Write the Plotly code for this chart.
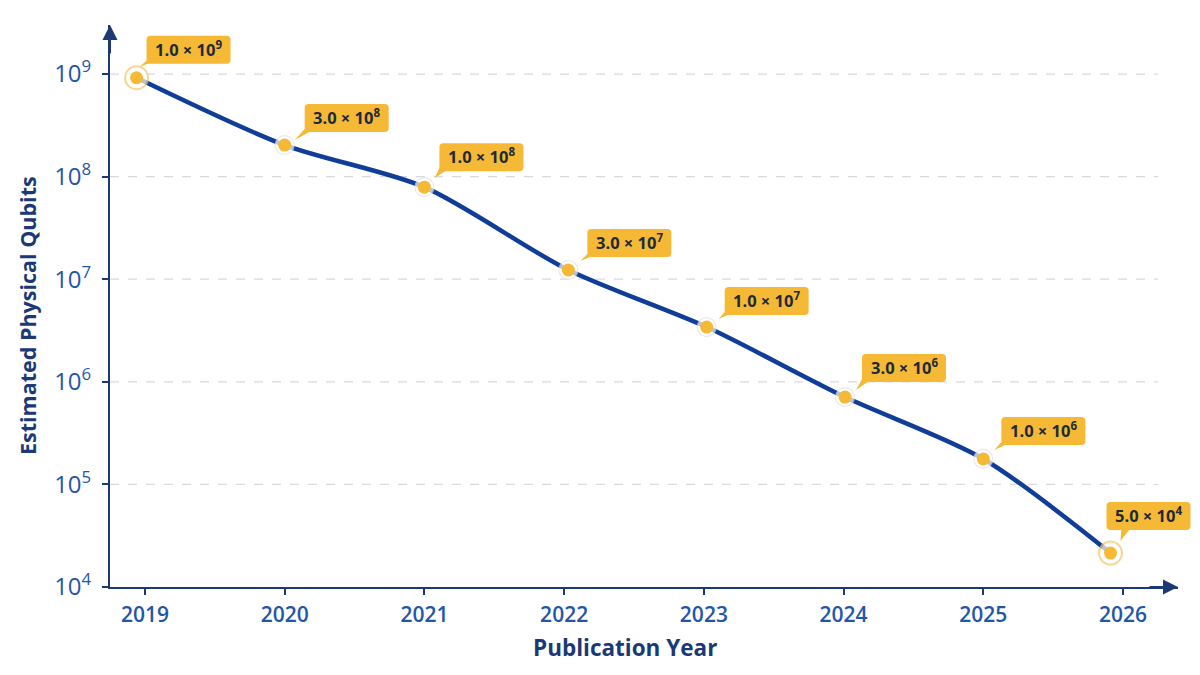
import math
import plotly.graph_objects as go

# ---- data ----
years = [2018.94, 2020, 2021, 2022.03, 2023.02, 2024.01, 2025, 2025.91]
qubits = [9.2e8, 2.03e8, 7.9e7, 1.23e7, 3.42e6, 7.1e5, 1.77e5, 2.14e4]
labels = ["1.0 × 10<sup>9</sup>", "3.0 × 10<sup>8</sup>", "1.0 × 10<sup>8</sup>",
          "3.0 × 10<sup>7</sup>", "1.0 × 10<sup>7</sup>", "3.0 × 10<sup>6</sup>",
          "1.0 × 10<sup>6</sup>", "5.0 × 10<sup>4</sup>"]
x_ticks = [2019, 2020, 2021, 2022, 2023, 2024, 2025, 2026]
y_exps = [4, 5, 6, 7, 8, 9]

# ---- styles ----
NAVY = "#1b3a75"
LINE = "#0f3d98"
TICK = "#2356a8"
ORANGE = "#f6b935"
FONT = "Open Sans"

X_RANGE = [2018.75, 2026.393]
Y_RANGE = [4, 9.478]

# callout geometry (pixels): box left offset, box bottom offset (up), tip x, tip y, tail base offset
callout = [
    (10, 14, 3, 11, 0),
    (20, 13, 10, 5, 0),
    (15, 16, 10, 9, 0),
    (19, 13, 12, 9, 0),
    (18, 12, 12, 8, 0),
    (17, 15, 11, 7, 0),
    (18, 14, 11, 9, 0),
    (-4, 23, 10, 12, 15),
]
BW, BH, R = 84, 28, 4

fig = go.Figure()

# line
fig.add_trace(go.Scatter(
    x=years, y=qubits, mode="lines",
    line=dict(color=LINE, width=4.5, shape="spline", smoothing=0.8),
    hoverinfo="skip", showlegend=False))

# marker rings
n = len(years)
ring_sizes = [23 if i in (0, n - 1) else 19 for i in range(n)]
ring_colors = ["#f3c766" if i in (0, n - 1) else "#e6e2d8" for i in range(n)]
ring_widths = [2 if i in (0, n - 1) else 1.2 for i in range(n)]
fig.add_trace(go.Scatter(
    x=years, y=qubits, mode="markers",
    marker=dict(size=ring_sizes, color="white",
                line=dict(color=ring_colors, width=ring_widths)),
    hoverinfo="skip", showlegend=False, cliponaxis=False))
fig.add_trace(go.Scatter(
    x=years, y=qubits, mode="markers",
    marker=dict(size=13, color=ORANGE, line=dict(width=0)),
    showlegend=False, cliponaxis=False))

shapes = []
annotations = []

# dashed gridlines
for e in y_exps[1:]:
    shapes.append(dict(type="line", xref="x", yref="y", x0=2018.75, x1=2026.25,
                       y0=10 ** e, y1=10 ** e, layer="below",
                       line=dict(color="#d6dae0", width=1.2, dash="dash")))


def to_paper_x(v):
    return (v - X_RANGE[0]) / (X_RANGE[1] - X_RANGE[0])


def to_paper_y(v):
    return (math.log10(v) - Y_RANGE[0]) / (Y_RANGE[1] - Y_RANGE[0])


# callouts (paper-referenced so they are not clipped by the plot area)
for (xv, yv, txt, (dx, dy, tx, ty, bo)) in zip(years, qubits, labels, callout):
    ax_, ay_ = to_paper_x(xv), to_paper_y(yv)
    L, B = dx, dy
    Rr, T = dx + BW, dy + BH
    rect = (f"M {L+R},{B} L {Rr-R},{B} Q {Rr},{B} {Rr},{B+R} L {Rr},{T-R} "
            f"Q {Rr},{T} {Rr-R},{T} L {L+R},{T} Q {L},{T} {L},{T-R} "
            f"L {L},{B+R} Q {L},{B} {L+R},{B} Z")
    shapes.append(dict(type="path", path=rect, xref="paper", yref="paper",
                       xsizemode="pixel", ysizemode="pixel",
                       xanchor=ax_, yanchor=ay_, fillcolor=ORANGE,
                       line=dict(width=0), layer="above"))
    b0 = L + bo
    tail = f"M {b0},{B+3} L {tx},{ty} L {b0+10},{B+3} Z"
    shapes.append(dict(type="path", path=tail, xref="paper", yref="paper",
                       xsizemode="pixel", ysizemode="pixel",
                       xanchor=ax_, yanchor=ay_, fillcolor=ORANGE,
                       line=dict(width=0), layer="above"))
    annotations.append(dict(x=xv, y=math.log10(yv), xref="x", yref="y",
                            text=txt, showarrow=False,
                            xanchor="center", yanchor="middle",
                            xshift=L + BW / 2, yshift=B + BH / 2 + 1,
                            font=dict(family=FONT, size=16.5, color="#1d2a3a", weight="bold")))

# axis arrows
annotations.append(dict(xref="paper", yref="paper", x=1, y=0, ax=-30, ay=0,
                        text="", showarrow=True, arrowhead=2, arrowsize=1.5,
                        arrowwidth=2, arrowcolor=NAVY))
annotations.append(dict(xref="paper", yref="paper", x=0, y=1, ax=0, ay=30,
                        text="", showarrow=True, arrowhead=2, arrowsize=1.5,
                        arrowwidth=2, arrowcolor=NAVY))

# axis titles
annotations.append(dict(xref="paper", yref="paper", x=(625 - 110) / 1068, y=-(647 - 587) / 562,
                        text="Publication Year", showarrow=False,
                        xanchor="center", yanchor="middle",
                        font=dict(family=FONT, size=22.5, color=NAVY, weight="bold")))
annotations.append(dict(xref="paper", yref="paper", x=-(110 - 27) / 1068, y=(587 - 316) / 562,
                        text="Estimated Physical Qubits", showarrow=False, textangle=-90,
                        xanchor="center", yanchor="middle",
                        font=dict(family=FONT, size=21.5, color=NAVY, weight="bold")))

fig.update_layout(
    width=1200, height=675,
    margin=dict(l=110, r=22, t=25, b=88),
    paper_bgcolor="white", plot_bgcolor="white",
    font=dict(family=FONT),
    shapes=shapes, annotations=annotations,
    xaxis=dict(range=X_RANGE, tickvals=x_ticks, ticktext=[str(v) for v in x_ticks],
               showgrid=False, zeroline=False, showline=True, linecolor=NAVY, linewidth=2,
               ticks="outside", ticklen=6, tickwidth=2, tickcolor=NAVY, ticklabelstandoff=2,
               tickfont=dict(family=FONT, size=21, color=TICK, weight=600)),
    yaxis=dict(type="log", range=Y_RANGE, tickvals=[10 ** e for e in y_exps],
               ticktext=[f"10<sup>{e}</sup>" for e in y_exps],
               showgrid=False, zeroline=False, showline=True, linecolor=NAVY, linewidth=2,
               ticks="outside", ticklen=6, tickwidth=2, tickcolor=NAVY, ticklabelstandoff=6,
               tickfont=dict(family=FONT, size=24, color=TICK)),
)

fig.write_html("out.html")
